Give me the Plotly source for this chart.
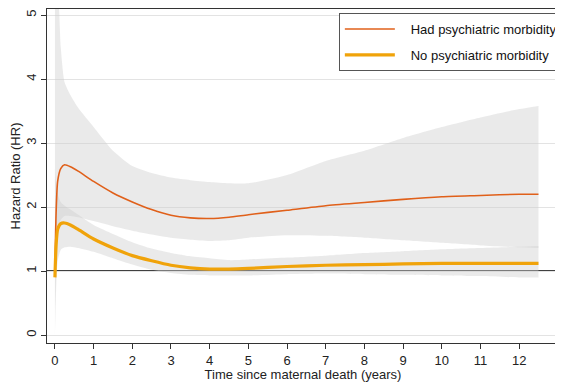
import plotly.graph_objects as go

# Time since maternal death (years)
t = [0, 0.03, 0.07, 0.15, 0.25, 0.4, 0.6, 1, 1.5, 2, 2.5, 3, 3.5, 4, 4.5, 5, 6, 7, 8, 9, 10, 11, 12, 12.5]

# Hazard ratio curves
had_hr = [1.0, 1.9, 2.4, 2.6, 2.66, 2.63, 2.56, 2.4, 2.22, 2.08, 1.96, 1.87, 1.83, 1.82, 1.84, 1.88, 1.95, 2.02, 2.07, 2.12, 2.16, 2.18, 2.2, 2.2]
no_hr = [0.9, 1.4, 1.65, 1.74, 1.75, 1.72, 1.65, 1.5, 1.36, 1.24, 1.16, 1.09, 1.05, 1.03, 1.03, 1.04, 1.07, 1.09, 1.1, 1.11, 1.12, 1.12, 1.12, 1.12]

# 95% confidence bands
had_up = [5.3, 5.3, 5.3, 4.5, 3.95, 3.75, 3.55, 3.25, 2.88, 2.64, 2.53, 2.46, 2.42, 2.39, 2.37, 2.37, 2.5, 2.72, 2.88, 3.08, 3.25, 3.4, 3.53, 3.58]
had_lo = [0.4, 1.2, 1.6, 1.8, 1.86, 1.86, 1.84, 1.78, 1.7, 1.63, 1.57, 1.52, 1.49, 1.47, 1.48, 1.52, 1.56, 1.55, 1.52, 1.48, 1.44, 1.4, 1.37, 1.36]
no_up = [2.6, 2.35, 2.2, 2.08, 2.02, 1.96, 1.88, 1.72, 1.58, 1.45, 1.35, 1.28, 1.23, 1.2, 1.17, 1.18, 1.21, 1.24, 1.28, 1.31, 1.34, 1.36, 1.38, 1.39]
no_lo = [0.0, 0.7, 1.15, 1.33, 1.37, 1.38, 1.36, 1.3, 1.2, 1.1, 1.02, 0.97, 0.94, 0.93, 0.93, 0.93, 0.95, 0.96, 0.95, 0.94, 0.93, 0.92, 0.9, 0.9]

x_ticks = list(range(0, 14))
y_ticks = [0, 1, 2, 3, 4, 5]

band_fill = "rgba(205,205,205,0.42)"
font_family = "Liberation Sans, Arial, sans-serif"

fig = go.Figure()

for up, lo in [(had_up, had_lo), (no_up, no_lo)]:
    fig.add_trace(go.Scatter(
        x=t, y=lo, mode="lines",
        line=dict(width=0, shape="spline", smoothing=0.6),
        hoverinfo="skip", showlegend=False))
    fig.add_trace(go.Scatter(
        x=t, y=up, mode="lines", fill="tonexty", fillcolor=band_fill,
        line=dict(width=0, shape="spline", smoothing=0.6),
        hoverinfo="skip", showlegend=False))

fig.add_trace(go.Scatter(
    x=t, y=had_hr, mode="lines", name="   Had psychiatric morbidity",
    line=dict(color="#e0601a", width=1.6, shape="spline", smoothing=0.6),
    legendgroup="a"))
fig.add_trace(go.Scatter(
    x=t, y=no_hr, mode="lines", name="   No psychiatric morbidity",
    line=dict(color="#f0a30a", width=3.2, shape="spline", smoothing=0.6),
    legendgroup="b"))

fig.add_shape(type="line", xref="paper", x0=0, x1=1, yref="y", y0=1, y1=1,
              line=dict(color="black", width=1.3), layer="below")

fig.update_layout(
    width=555, height=374,
    margin=dict(l=39, r=0, t=1, b=39),
    paper_bgcolor="white", plot_bgcolor="white",
    font=dict(family=font_family, size=13, color="#222"),
    showlegend=True,
    legend=dict(x=0.57, y=0.988, xanchor="left", yanchor="top",
                bordercolor="#555", borderwidth=1, bgcolor="white",
                font=dict(size=13, color="#111"), itemwidth=50,
                tracegroupgap=6, traceorder="grouped"),
    xaxis=dict(range=[-0.205, 13.03], tickvals=x_ticks, ticks="outside", ticklen=5,
               tickcolor="#333", showline=True, linecolor="#333", linewidth=1.2,
               mirror=True, showgrid=False, zeroline=False,
               title=dict(text="Time since maternal death (years)", standoff=2,
                          font=dict(size=13)),
               tickfont=dict(size=13)),
    yaxis=dict(range=[-0.125, 5.094], tickvals=y_ticks, ticks="outside", ticklen=5,
               tickcolor="#333", showline=True, linecolor="#333", linewidth=1.2,
               showgrid=True, gridcolor="#e3e3e3", gridwidth=1, zeroline=False,
               tickangle=-90,
               title=dict(text="Hazard Ratio (HR)", standoff=0, font=dict(size=13)),
               tickfont=dict(size=13)),
)

fig.write_html("out.html")
